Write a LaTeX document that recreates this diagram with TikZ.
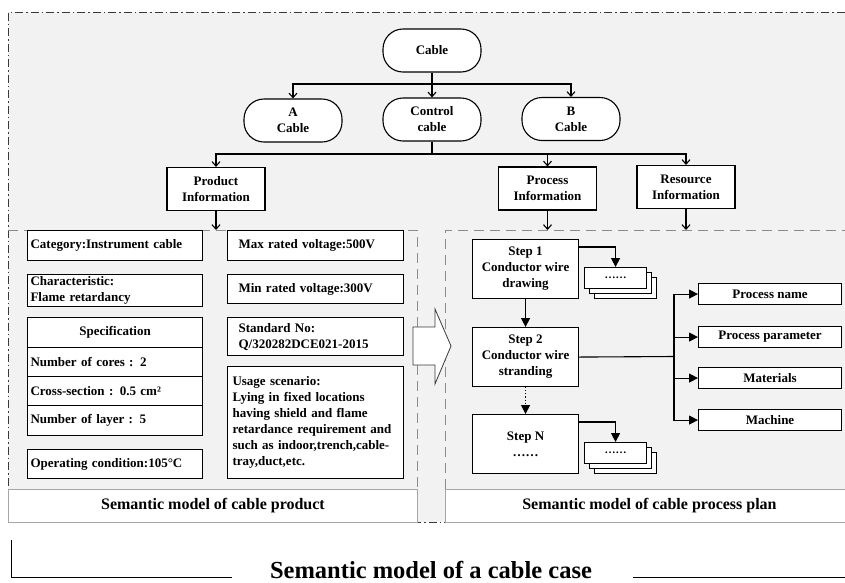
\documentclass[tikz,border=0pt]{standalone}
\usepackage{fontspec}
\setmainfont{Liberation Serif}
\usetikzlibrary{arrows.meta}
\definecolor{bggray}{HTML}{F2F2F2}
\definecolor{panelgray}{HTML}{8C8C8C}
\definecolor{stripgray}{HTML}{A6A6A6}
\definecolor{framegray}{HTML}{3A3A3A}
\begin{document}
\begin{tikzpicture}[x=1pt,y=-1pt,
  txt/.style={font=\bfseries\fontsize{13}{16}\selectfont},
  stadium/.style={txt, draw, line width=1.1pt, fill=white, rounded corners=20pt,
    minimum width=98pt, minimum height=43pt, inner sep=0pt, align=center},
  infobox/.style={txt, draw, line width=1.1pt, fill=white,
    minimum width=98pt, minimum height=43pt, inner sep=0pt, align=center},
  pbox/.style={txt, draw, line width=1.1pt, fill=white, anchor=north west,
    inner ysep=0pt, align=left},
  cbox/.style={txt, draw, line width=1.1pt, fill=white, anchor=north west,
    inner sep=0pt, align=center},
  stackbox/.style={draw, line width=1.1pt, fill=white, anchor=north west,
    minimum width=62pt, minimum height=21pt, inner sep=0pt,
    font=\bfseries\fontsize{11}{12}\selectfont},
  strip/.style={draw=stripgray, line width=0.9pt, fill=white, anchor=north west,
    inner sep=0pt, font=\bfseries\fontsize{16}{18}\selectfont},
  treearrow/.style={line width=1.1pt, -{Straight Barb[length=4.5pt,width=8pt,line width=1.1pt]}},
  steparrow/.style={line width=1.1pt, -{Triangle[length=9pt,width=9pt]}},
  plain/.style={line width=1.1pt}]
\useasboundingbox (0,0) rectangle (845,582);

% shaded working area with its dash-dot frame
\fill[bggray] (8,12) rectangle (860,522);
\draw[framegray, line width=0.8pt, dash pattern=on 8pt off 3pt on 1.5pt off 3pt]
  (860,12) -- (8,12) -- (8,522) -- (860,522);

% the two dashed panels
\draw[panelgray, line width=0.9pt, dash pattern=on 10pt off 6pt]
  (8,230) -- (417,230) -- (417,489);
\draw[panelgray, line width=0.9pt, dash pattern=on 10pt off 6pt]
  (445,489) -- (445,230) -- (850,230);

% panel captions
\node[strip, minimum width=409pt, minimum height=33pt] (prodcap) at (8,489)
  {Semantic model of cable product};
\node[strip, minimum width=408pt, minimum height=33pt] (proccap) at (445,489)
  {Semantic model of cable process plan};

% cable hierarchy
\node[stadium] (cable) at (432,50.5) {Cable};
\node[stadium] (acable) at (293,120.5) {A\\Cable};
\node[stadium] (ctrl) at (432,119.5) {Control\\cable};
\node[stadium] (bcable) at (571,119) {B\\Cable};

\node[infobox] (prod) at (216,189) {Product\\Information};
\node[infobox] (proc) at (547.5,188.5) {Process\\Information};
\node[infobox] (res) at (686,187) {Resource\\Information};

\coordinate (j1) at (432,84);
\coordinate (j2) at (432,154);
\coordinate (prodin) at (216,230);
\coordinate (procin) at (547.5,230);
\coordinate (resin) at (686,230);

\draw[plain] (cable.south) -- (j1);
\draw[treearrow] (j1) -| (acable.north);
\draw[treearrow] (j1) -- (ctrl.north);
\draw[treearrow] (j1) -| (bcable.north);
\draw[plain] (ctrl.south) -- (j2);
\draw[treearrow] (j2) -| (prod.north);
\draw[treearrow] (j2) -| (proc.north);
\draw[treearrow] (j2) -| (res.north);
\draw[treearrow] (prod.south) -- (prodin);
\draw[treearrow] (proc.south) -- (procin);
\draw[treearrow] (res.south) -- (resin);

% product attributes
\node[pbox, minimum height=30pt, text width=169pt, inner xsep=3pt] (cat) at (27,230)
  {Category:Instrument cable};
\node[pbox, minimum height=32pt, text width=169pt, inner xsep=3pt] (charac) at (27,274)
  {Characteristic:\\Flame retardancy};
\node[cbox, minimum width=175pt, minimum height=30pt] (spec) at (27,317) {Specification};
\node[pbox, minimum height=29pt, text width=169pt, inner xsep=3pt] (cores) at (27,347)
  {Number of cores : 2};
\node[pbox, minimum height=29pt, text width=169pt, inner xsep=3pt] (cross) at (27,376)
  {Cross-section : 0.5 cm²};
\node[pbox, minimum height=30pt, text width=169pt, inner xsep=3pt] (layer) at (27,405)
  {Number of layer : 5};
\node[pbox, minimum height=29pt, text width=169pt, inner xsep=3pt] (oper) at (27,449)
  {Operating condition:105°C};

\node[pbox, minimum height=30pt, text width=154pt, inner xsep=11pt] (maxv) at (227,230)
  {Max rated voltage:500V};
\node[pbox, minimum height=29pt, text width=154pt, inner xsep=11pt] (minv) at (227,274)
  {Min rated voltage:300V};
\node[pbox, minimum height=38pt, text width=154pt, inner xsep=11pt] (std) at (227,317)
  {Standard No:\\Q/320282DCE021-2015};
\node[pbox, minimum height=112pt, text width=166pt, inner xsep=5pt] (usage) at (227,366)
  {Usage scenario:\\Lying in fixed locations\\having shield and flame\\retardance requirement and\\such as indoor,trench,cable-\\tray,duct,etc.};

% transition between the two models
\draw[framegray, line width=0.8pt, fill=white]
  (413,327) -- (435,327) -- (435,309) -- (451,346) -- (435,384) -- (435,365) -- (413,365) -- cycle;

% process steps
\node[cbox, minimum width=106pt, minimum height=59pt] (step1) at (472,239)
  {Step 1\\Conductor wire\\drawing};
\node[cbox, minimum width=106pt, minimum height=59pt] (step2) at (472,327)
  {Step 2\\Conductor wire\\stranding};
\node[cbox, minimum width=106pt, minimum height=59pt] (stepn) at (472,414)
  {Step N\\……};

% stacked sub-step cards
\node[stackbox] (s1c) at (594,277) {};
\node[stackbox] (s1b) at (589,272) {};
\node[stackbox] (s1a) at (584,267) {……};
\node[stackbox] (snc) at (594,452) {};
\node[stackbox] (snb) at (589,447) {};
\node[stackbox] (sna) at (584,442) {……};

% step attributes
\node[cbox, minimum width=143pt, minimum height=21pt] (pname) at (698,283) {Process name};
\node[cbox, minimum width=143pt, minimum height=21pt] (ppar) at (698,326) {Process parameter};
\node[cbox, minimum width=143pt, minimum height=21pt] (mat) at (698,367) {Materials};
\node[cbox, minimum width=143pt, minimum height=21pt] (mach) at (698,409) {Machine};

\coordinate (s1out) at (578,247);
\coordinate (snout) at (578,422);
\coordinate (trunk) at (674,356.5);

\draw[steparrow] (step1.south) -- (step2.north);
\draw[steparrow, dotted] (step2.south) -- (stepn.north);
\draw[steparrow] (s1out) -| (s1a.north);
\draw[steparrow] (snout) -| (sna.north);
\draw[plain] (step2.east) -- (trunk);
\draw[steparrow] (trunk) |- (pname.west);
\draw[steparrow] (trunk) |- (ppar.west);
\draw[steparrow] (trunk) |- (mat.west);
\draw[steparrow] (trunk) |- (mach.west);

% overall caption with its bracket
\coordinate (capl) at (232,577);
\coordinate (capr) at (633,577);
\node[font=\bfseries\fontsize{24.5}{26}\selectfont, anchor=base, inner sep=0pt] (title) at (431,578)
  {Semantic model of a cable case};
\draw[line width=0.9pt] (11,540) -- (11,577) -- (capl);
\draw[line width=0.9pt] (capr) -- (850,577);
\end{tikzpicture}
\end{document}
